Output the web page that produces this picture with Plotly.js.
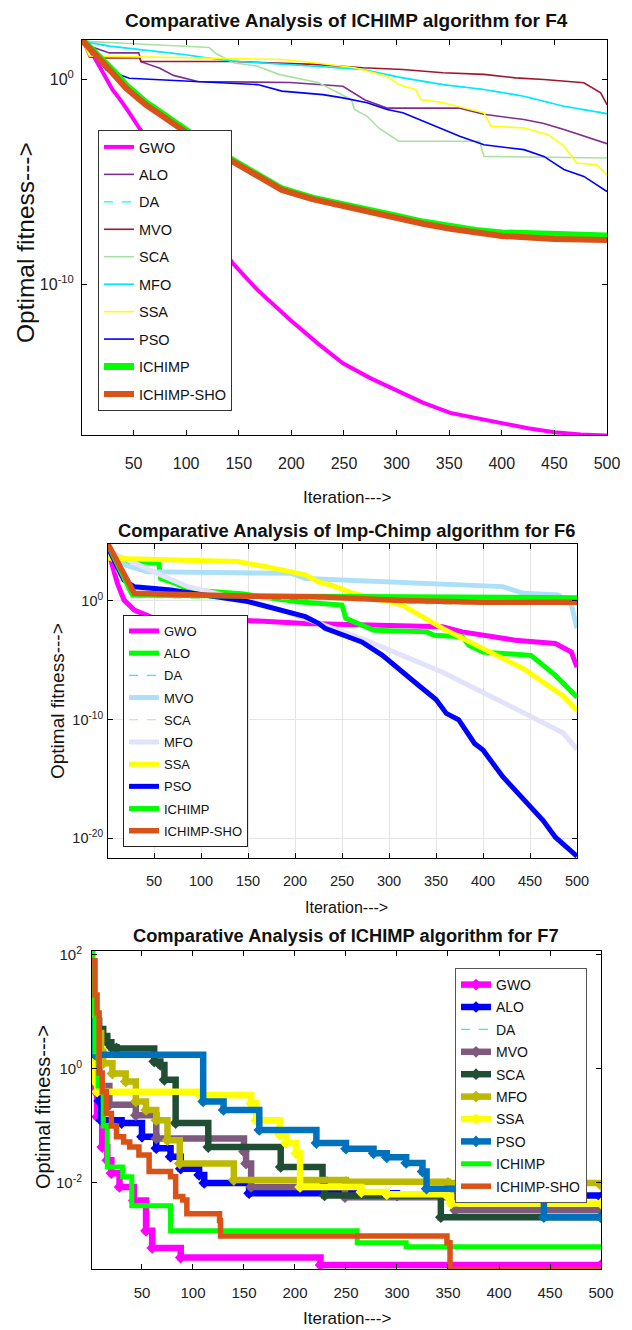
<!DOCTYPE html>
<html><head><meta charset="utf-8">
<script src="https://cdn.plot.ly/plotly-3.0.1.min.js"></script>
<style>html,body{margin:0;padding:0;background:#fff}#chart{width:632px;height:1330px}</style>
</head><body><div id="chart"></div>
<script>
// ---------------- DATA (fitness values given as log10) ----------------
const algorithms = ['GWO','ALO','DA','MVO','SCA','MFO','SSA','PSO','ICHIMP','ICHIMP-SHO'];
const iterTicks = [50,100,150,200,250,300,350,400,450,500];

// F4
const f4_gwo_x = [1,8,17,23,30,36,43,56,70,85,100,120,144,168,199,225,249,275,301,325,351,375,400,425,450,475,500];
const f4_gwo_y = [1.93,1.5,0.7,0.15,-0.5,-0.9,-1.4,-2.42,-3.4,-4.5,-5.6,-7.1,-8.97,-10.3,-11.76,-12.9,-13.87,-14.6,-15.2,-15.8,-16.3,-16.55,-16.8,-17.05,-17.25,-17.35,-17.4];
const f4_alo_x = [1,10,27,55,57,75,88,100,111,199,230,249,270,291,360,383,421,440,459,480,500];
const f4_alo_y = [1.93,1.6,1.3,1.3,0.87,0.55,0.2,0.05,-0.1,-0.15,-0.25,-0.33,-1.0,-1.4,-1.4,-1.7,-1.96,-2.15,-2.45,-2.8,-3.14];
const f4_mvo_x = [1,8,21,56,57,145,222,268,306,344,383,413,440,478,494,500];
const f4_mvo_y = [1.93,1.1,1.05,1.05,0.88,0.88,0.74,0.57,0.49,0.33,0.25,0.08,0.0,-0.16,-0.65,-1.23];
const f4_sca_x = [1,10,60,122,128,145,168,188,226,241,257,260,272,283,302,379,383,500];
const f4_sca_y = [1.93,1.85,1.72,1.56,1.28,0.82,0.65,0.25,-0.16,-0.57,-0.98,-1.47,-1.8,-2.37,-3.02,-3.02,-3.76,-3.84];
const f4_mfo_x = [1,5,27,96,131,145,222,268,306,344,383,421,459,500];
const f4_mfo_y = [1.93,1.83,1.63,1.23,0.98,0.9,0.65,0.49,0.08,-0.25,-0.49,-0.82,-1.31,-1.67];
const f4_ssa_x = [1,8,27,191,222,260,291,302,318,323,344,383,390,421,444,459,471,490,500];
const f4_ssa_y = [1.93,1.15,1.13,0.98,0.82,0.57,0.16,-0.25,-0.49,-0.98,-1.14,-1.63,-2.29,-2.37,-2.7,-3.25,-4.08,-4.17,-4.66];
const f4_pso_x = [1,24,46,94,107,168,191,230,249,272,291,306,329,360,383,421,440,459,478,500];
const f4_pso_y = [1.93,0.46,0.06,-0.05,-0.08,-0.25,-0.57,-0.74,-0.9,-1.14,-1.47,-1.63,-2.12,-2.78,-3.19,-3.43,-3.76,-4.4,-4.74,-5.48];
const f4_ich_x = [1,10,21,32,43,55,62,75,87,100,120,144,170,191,220,249,275,301,325,351,375,400,450,500];
const f4_ich_y = [1.93,1.5,0.95,0.35,-0.3,-0.85,-1.15,-1.6,-2.05,-2.5,-3.2,-3.95,-4.75,-5.35,-5.8,-6.15,-6.45,-6.7,-6.97,-7.2,-7.38,-7.5,-7.6,-7.65];
const f4_sho_x = [1,10,21,32,43,55,62,75,87,100,120,144,170,191,220,249,275,301,325,351,375,400,450,500];
const f4_sho_y = [1.93,1.45,0.87,0.2,-0.43,-0.95,-1.25,-1.7,-2.14,-2.6,-3.3,-4.0,-4.8,-5.4,-5.85,-6.2,-6.5,-6.77,-7.05,-7.3,-7.5,-7.65,-7.8,-7.85];

// F6
const f6_gwo_x = [1,4,11,18,29,50,139,211,314,357,378,434,477,494,500];
const f6_gwo_y = [4.3,3.46,1.49,0.08,-0.76,-1.46,-1.6,-1.9,-2.05,-2.18,-2.6,-3.3,-3.58,-4.3,-5.57];
const f6_alo_x = [1,10,55,57,72,89,143,203,250,254,284,340,348,378,385,400,451,460,477,500];
const f6_alo_y = [4.7,3.4,3.19,1.9,1.5,0.93,0.6,-0.06,-0.34,-1.47,-2.46,-2.6,-2.88,-3.02,-3.73,-4.3,-4.58,-5.14,-6.27,-8.1];
const f6_mvo_x = [1,20,43,196,211,293,421,443,480,494,500];
const f6_mvo_y = [4.3,3.0,2.47,2.33,1.9,1.6,1.21,0.65,0.5,-0.34,-2.3];
const f6_sca_x = [1,10,20,30,100,250,330,500];
const f6_sca_y = [4.0,2.5,1.0,0.3,0.2,0.1,-0.25,-0.3];
const f6_mfo_x = [1,7,53,86,115,143,175,211,232,271,314,357,400,443,485,500];
const f6_mfo_y = [4.0,4.0,2.33,1.2,0.65,0.05,-0.48,-1.46,-2.1,-3.16,-4.58,-6.0,-7.7,-9.4,-11.1,-12.5];
const f6_ssa_x = [1,139,168,196,211,225,240,262,314,357,400,443,485,500];
const f6_ssa_y = [3.6,3.32,2.9,2.47,2.2,1.6,1.3,0.65,-0.34,-2.31,-4.0,-5.7,-7.97,-9.24];
const f6_pso_x = [1,18,29,68,150,186,211,225,232,271,293,331,350,361,374,391,400,421,447,464,477,500];
const f6_pso_y = [4.5,1.77,1.2,0.93,-0.05,-0.76,-1.32,-1.88,-2.3,-3.45,-4.58,-7.08,-8.3,-9.47,-10.0,-12.0,-12.56,-14.8,-17.05,-18.5,-19.9,-21.5];
const f6_ich_x = [1,27,100,200,300,400,500];
const f6_ich_y = [4.7,0.5,0.45,0.4,0.35,0.3,0.28];
const f6_sho_x = [1,29,143,230,314,400,500];
const f6_sho_y = [4.8,0.65,0.42,0.33,0.05,-0.1,-0.11];

// F7 (step curves)
const f7_gwo_x = [1,2,3,6,11,16,20,28,42,54,60,88,225,500];
const f7_gwo_y = [1.0,0.78,-0.37,-0.84,-1.37,-1.6,-1.83,-2.07,-2.31,-2.84,-3.14,-3.31,-3.44,-3.44];
const f7_alo_x = [1,2,5,8,10,30,50,64,78,88,106,111,155,300,500];
const f7_alo_y = [0.8,0.39,0.0,-0.56,-0.9,-0.95,-1.19,-1.39,-1.54,-1.75,-1.86,-2.0,-2.18,-2.22,-2.25];
const f7_mvo_x = [1,6,18,44,64,150,152,157,249,357,500];
const f7_mvo_y = [0.6,-0.3,-0.63,-0.81,-1.22,-1.45,-1.66,-2.07,-2.25,-2.48,-2.48];
const f7_sca_x = [1,2,5,8,12,16,20,25,62,68,72,83,115,186,227,229,343,500];
const f7_sca_y = [1.0,0.98,0.85,0.7,0.58,0.47,0.38,0.36,0.13,0.07,-0.19,-0.95,-1.37,-1.72,-1.95,-2.22,-2.6,-2.6];
const f7_mfo_x = [1,6,10,12,21,34,44,54,64,75,87,140,250,350,500];
const f7_mfo_y = [0.9,0.63,0.3,0.1,-0.08,-0.22,-0.57,-0.72,-0.9,-1.25,-1.66,-1.95,-1.98,-2.0,-2.04];
const f7_ssa_x = [1,2,3,6,107,157,162,185,191,201,205,265,290,349,353,500];
const f7_ssa_y = [0.3,0.04,-0.2,-0.4,-0.46,-0.6,-0.9,-1.15,-1.3,-1.48,-2.07,-2.16,-2.2,-2.22,-2.36,-2.36];
const f7_pso_x = [1,4,110,130,165,221,250,277,290,309,325,329,444,500];
const f7_pso_y = [0.8,0.25,-0.57,-0.72,-1.07,-1.3,-1.4,-1.48,-1.55,-1.65,-1.8,-2.1,-2.6,-2.6];
const f7_ich_x = [1,2,4,7,12,16,31,40,78,261,309,500];
const f7_ich_y = [2.1,1.0,0.3,-0.3,-1.0,-1.72,-1.89,-2.4,-2.84,-3.05,-3.12,-3.12];
const f7_sho_x = [1,4,6,8,11,15,20,25,32,38,47,57,78,83,90,94,126,127,349,352,500];
const f7_sho_y = [1.9,1.3,0.98,-0.07,-0.4,-0.78,-1.0,-1.19,-1.28,-1.37,-1.51,-1.8,-1.89,-2.24,-2.3,-2.54,-2.66,-2.93,-3.05,-3.52,-3.52];

const f4_series = [[f4_gwo_x,f4_gwo_y],[f4_alo_x,f4_alo_y],[f4_mfo_x,f4_mfo_y],[f4_mvo_x,f4_mvo_y],[f4_sca_x,f4_sca_y],[f4_mfo_x,f4_mfo_y],[f4_ssa_x,f4_ssa_y],[f4_pso_x,f4_pso_y],[f4_ich_x,f4_ich_y],[f4_sho_x,f4_sho_y]];
const f6_series = [[f6_gwo_x,f6_gwo_y],[f6_alo_x,f6_alo_y],[f6_mvo_x,f6_mvo_y],[f6_mvo_x,f6_mvo_y],[f6_sca_x,f6_sca_y],[f6_mfo_x,f6_mfo_y],[f6_ssa_x,f6_ssa_y],[f6_pso_x,f6_pso_y],[f6_ich_x,f6_ich_y],[f6_sho_x,f6_sho_y]];
const f7_series = [[f7_gwo_x,f7_gwo_y],[f7_alo_x,f7_alo_y],[f7_pso_x,f7_pso_y],[f7_mvo_x,f7_mvo_y],[f7_sca_x,f7_sca_y],[f7_mfo_x,f7_mfo_y],[f7_ssa_x,f7_ssa_y],[f7_pso_x,f7_pso_y],[f7_ich_x,f7_ich_y],[f7_sho_x,f7_sho_y]];

const f4_ytick_vals = [1, 1e-10];
const f4_ytick_text = ['10<sup>0</sup>','10<sup>-10</sup>'];
const f6_ytick_vals = [1, 1e-10, 1e-20];
const f6_ytick_text = ['10<sup>0</sup>','10<sup>-10</sup>','10<sup>-20</sup>'];
const f7_ytick_vals = [100, 1, 0.01];
const f7_ytick_text = ['10<sup>2</sup>','10<sup>0</sup>','10<sup>-2</sup>'];

const titles = ['Comparative Analysis of ICHIMP algorithm for F4','Comparative Analysis of Imp-Chimp algorithm for F6','Comparative Analysis of ICHIMP algorithm for F7'];
const xTitle = 'Iteration--->';
const yTitle = 'Optimal fitness--->';

// ---------------- STYLES ----------------
const f4_style = {
  color:['#FF00FF','#7E2F8E','#00FFFF','#A2142F','#A8E2A0','#00E8FF','#FFFF00','#0000FF','#00FF00','#D95319'],
  width:[4,1.6,1.2,1.6,1.6,1.6,1.6,1.6,7,6],
  dash:['solid','solid','dash','solid','solid','solid','solid','solid','solid','solid']
};
const f6_style = {
  color:['#FF00FF','#00FF00','#00FFFF','#ABE0F8','#B2E6AD','#E2E2FA','#FFFF00','#0000FF','#00FF00','#D95319'],
  width:[5,5,1.2,5,1.2,5,5,5,5,5.5],
  dash:['solid','solid','dash','solid','dash','solid','solid','solid','solid','solid']
};
const f7_style = {
  color:['#FF00FF','#0000FF','#00FFFF','#7E5A7E','#1F4E35','#BDB800','#FFFF00','#0072BD','#00FF00','#D95319'],
  width:[6.5,6.5,1.2,6.5,6.5,6.5,6.5,6.5,5,5.5],
  dash:['solid','solid','dash','solid','solid','solid','solid','solid','solid','solid'],
  markers:[true,true,false,true,true,true,true,true,false,false]
};

const W = 632, H = 1330;
const FONT = 'Liberation Sans, Arial, Helvetica, sans-serif';
const toVal = a => a.map(v => Math.pow(10, v));

function buildTraces(series, style, xa, ya, leg, shape, tag) {
  return series.map((s, i) => {
    const hasM = style.markers && style.markers[i];
    const t = {
      type:'scatter', x:s[0], y:toVal(s[1]), name:algorithms[i],
      xaxis:xa, yaxis:ya, legend:leg, legendgroup:tag+i,
      mode: hasM ? 'lines+markers' : 'lines',
      line:{color:style.color[i], width:style.width[i], dash:style.dash[i], shape:shape},
      hoverinfo:'skip'
    };
    if (hasM) t.marker = {symbol:'diamond', size:9, color:style.color[i]};
    return t;
  });
}

const traces = [].concat(
  buildTraces(f4_series, f4_style, 'x', 'y', 'legend', 'linear', 'a'),
  buildTraces(f6_series, f6_style, 'x2', 'y2', 'legend2', 'linear', 'b'),
  buildTraces(f7_series, f7_style, 'x3', 'y3', 'legend3', 'hv', 'c')
);

function xAxis(dom, anchor, fs, standoff, grid) {
  return {domain:[dom[0]/W, dom[1]/W], anchor:anchor, range:[1,500], tickmode:'array',
    tickvals:iterTicks, ticktext:iterTicks.map(String), ticks:'inside', ticklen:5, tickwidth:1,
    tickcolor:'#000', showline:true, linecolor:'#000', linewidth:1, mirror:'ticks',
    showgrid:grid, gridcolor:'#e4e4e4', gridwidth:1, zeroline:false,
    tickfont:{family:FONT, size:fs, color:'#222'}, ticklabelstandoff:standoff, fixedrange:true};
}
function yAxis(dom, anchor, range, vals, text, fs, standoff, grid) {
  return {domain:[1-dom[1]/H, 1-dom[0]/H], anchor:anchor, type:'log', range:range, tickmode:'array',
    tickvals:vals, ticktext:text, ticks:'inside', ticklen:5, tickwidth:1, tickcolor:'#000',
    showline:true, linecolor:'#000', linewidth:1, mirror:'ticks',
    showgrid:grid, gridcolor:'#e4e4e4', gridwidth:1, zeroline:false,
    tickfont:{family:FONT, size:fs, color:'#222'}, ticklabelstandoff:standoff, fixedrange:true};
}
function legendBox(x, y, fs, gap, border) {
  return {x:x/W, y:1-y/H, xanchor:'left', yanchor:'top', bgcolor:'#fff', bordercolor:border,
    borderwidth:1, font:{family:FONT, size:fs, color:'#111'}, tracegroupgap:gap, traceorder:'grouped'};
}
function ann(text, x, y, fs, bold, angle) {
  return {text:bold ? '<b>'+text+'</b>' : text, xref:'paper', yref:'paper', x:x/W, y:1-y/H,
    xanchor:'center', yanchor:'middle', showarrow:false, textangle:angle||0,
    font:{family:FONT, size:fs, color:'#111'}};
}

const layout = {
  width:W, height:H, margin:{l:0, r:0, t:0, b:0},
  paper_bgcolor:'#fff', plot_bgcolor:'#fff', font:{family:FONT, color:'#000'},
  showlegend:true,
  xaxis:  xAxis([82,607], 'y', 16, 14, false),
  yaxis:  yAxis([40,435], 'x', [-17.38, 1.93], f4_ytick_vals, f4_ytick_text, 16, 4, false),
  xaxis2: xAxis([108,577], 'y2', 14.5, 10, true),
  yaxis2: yAxis([544,858], 'x2', [-21.65, 4.8], f6_ytick_vals, f6_ytick_text, 14.5, 1, true),
  xaxis3: xAxis([92,601], 'y3', 15, 10, false),
  yaxis3: yAxis([951,1269], 'x3', [-3.51, 2.07], f7_ytick_vals, f7_ytick_text, 15, 6, false),
  legend:  legendBox(98, 130, 14.5, 5.6, '#333'),
  legend2: legendBox(123, 615, 13, 2.3, '#222'),
  legend3: legendBox(455, 968, 14, 1.2, '#555'),
  annotations: [
    ann(titles[0], 346, 20, 19, true),
    ann(titles[1], 346, 530, 18.3, true),
    ann(titles[2], 346, 935, 18.3, true),
    ann(xTitle, 347, 497, 17, false),
    ann(xTitle, 346, 907, 16, false),
    ann(xTitle, 347, 1318, 17, false),
    ann(yTitle, 25, 243, 24.5, false, -90),
    ann(yTitle, 57, 701, 19, false, -90),
    ann(yTitle, 43, 1107, 20, false, -90)
  ]
};

Plotly.newPlot('chart', traces, layout, {staticPlot:true, displayModeBar:false});
</script></body></html>
